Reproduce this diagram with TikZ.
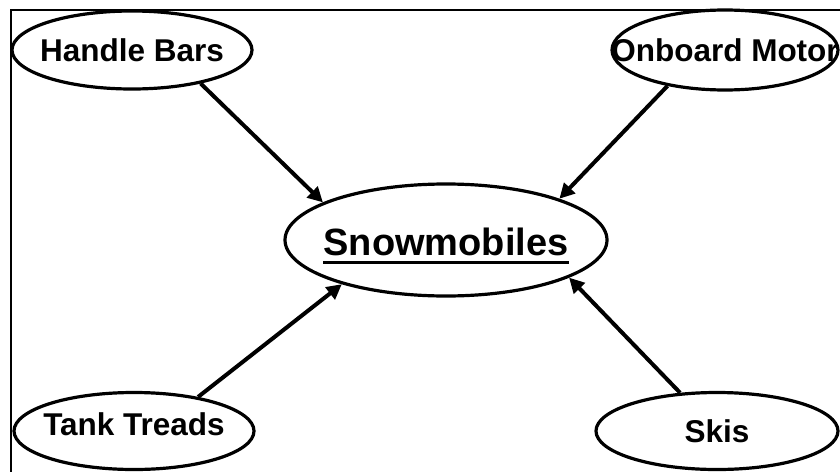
\documentclass[tikz,border=0pt]{standalone}
\usepackage{fontspec}
\setmainfont{Liberation Sans}
\usetikzlibrary{shapes.geometric,arrows.meta}
\begin{document}
\begin{tikzpicture}[x=1pt,y=-1pt,
  bubble/.style={ellipse,draw=black,line width=3.2pt,inner sep=0pt},
  caption/.style={inner sep=0pt,font=\bfseries\fontsize{31.5}{36}\selectfont},
  bigcaption/.style={inner sep=0pt,font=\bfseries\fontsize{38}{44}\selectfont},
  feed/.style={line width=4pt,-{Triangle[length=15pt,width=15pt]}},
  frame/.style={line width=1.3pt}]
\path[use as bounding box] (0,0) rectangle (840,471);

% outer frame (top and left edges)
\coordinate (fc) at (11,10);
\coordinate (fr) at (841,10);
\coordinate (fb) at (11,472);
\draw[frame] (fb) -- (fc) -- (fr);

% bubbles
\node[bubble,minimum width=240pt,minimum height=78pt] (hb) at (132,50) {};
\node[bubble,minimum width=226pt,minimum height=80pt] (om) at (725,50) {};
\node[bubble,minimum width=322pt,minimum height=112pt] (sm) at (446,240) {};
\node[bubble,minimum width=240pt,minimum height=77pt] (tt) at (134,431) {};
\node[bubble,minimum width=242pt,minimum height=77pt] (sk) at (717,431) {};

% captions
\node[caption] (hbt) at (hb) {Handle Bars};
\node[caption] (omt) at (om) {Onboard Motor};
\node[bigcaption,anchor=base] (smt) at (446,255) {Snowmobiles};
\draw[line width=3pt] ([yshift=-7.5pt]smt.base west) -- ([yshift=-7.5pt]smt.base east);
\node[caption] (ttt) at (134,424.5) {Tank Treads};
\node[caption] (skt) at (sk) {Skis};

% connectors
\draw[feed] (hb.-26) -- (sm.163);
\draw[feed] (om.-148) -- (sm.20);
\draw[feed] (tt.28) -- (sm.-157);
\draw[feed] (sk.134) -- (sm.-17);
\end{tikzpicture}
\end{document}
